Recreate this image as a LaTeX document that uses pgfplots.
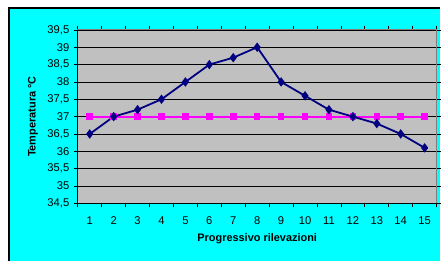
\documentclass[border=0pt]{standalone}
\usepackage{fontspec}
\setmainfont{Liberation Sans}
\usepackage{pgfplots}
\pgfplotsset{compat=1.18}
\definecolor{bgcyan}{RGB}{0,255,255}
\definecolor{plotgray}{RGB}{192,192,192}
\definecolor{navyline}{RGB}{0,0,128}
\definecolor{magline}{RGB}{255,0,255}
\definecolor{bordergray}{RGB}{128,128,128}
\begin{document}
\begin{tikzpicture}[x=1bp,y=1bp]
\fill[white] (0,0) rectangle (441,262);
\fill[bgcyan] (9,0) rectangle (441,254);
\draw[black, line width=2bp] (9,0) -- (9,254) -- (441,254);
\begin{axis}[
  at={(78bp,58bp)}, anchor=south west,
  scale only axis, width=360bp, height=174bp,
  xmin=0.5, xmax=15.5, ymin=34.5, ymax=39.5,
  xtick={1,...,15},
  minor xtick={0.5,1.5,...,15.5},
  ytick={34.5,35,...,39.5},
  tick align=outside,
  major x tick style={draw=none},
  minor tick length=4bp,
  major tick length=4bp,
  tick style={black, line width=0.8bp},
  ymajorgrids,
  major grid style={black, line width=0.8bp},
  axis background/.style={fill=plotgray},
  axis line style={bordergray, line width=1bp},
  /pgf/number format/.cd, use comma, fixed, assume math mode=true,
  /pgfplots/.cd,
  tick label style={font=\fontsize{11.3}{13}\selectfont},
  xticklabel style={yshift=-6bp},
  yticklabel style={xshift=-1bp},
  label style={font=\bfseries\fontsize{11}{13}\selectfont},
  xlabel={Progressivo rilevazioni},
  ylabel={Temperatura °C},
  xlabel style={at={(axis description cs:0.5,-0.205)}, anchor=center},
  ylabel style={at={(axis description cs:-0.125,0.5)}, anchor=center},
  clip=false,
]
\draw[black, line width=1.2bp] (rel axis cs:0,1) -- (rel axis cs:0,0) -- (rel axis cs:1,0);
\addplot[magline, line width=2bp, mark=square*, mark size=2.3bp] coordinates {
(1,37) (2,37) (3,37) (4,37) (5,37) (6,37) (7,37) (8,37) (9,37) (10,37) (11,37) (12,37) (13,37) (14,37) (15,37)};
\addplot[navyline, line width=1.8bp, mark=diamond*, mark size=3.3bp] coordinates {
(1,36.5) (2,37.0) (3,37.2) (4,37.5) (5,38.0) (6,38.5) (7,38.7) (8,39.0) (9,38.0) (10,37.6) (11,37.2) (12,37.0) (13,36.8) (14,36.5) (15,36.1)};
\end{axis}
\end{tikzpicture}
\end{document}
